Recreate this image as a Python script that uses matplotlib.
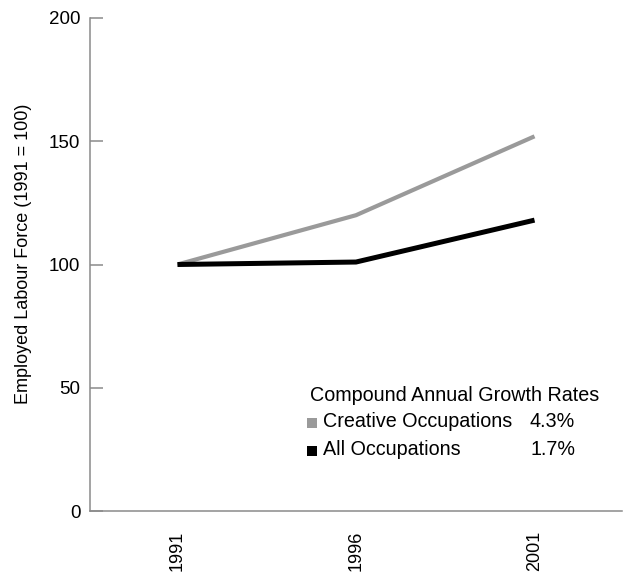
import matplotlib.pyplot as plt

years = ['1991', '1996', '2001']
creative = [100, 120, 152]
all_occ = [100, 101, 118]
series_names = ['Creative Occupations', 'All Occupations']
rates = ['4.3%', '1.7%']
legend_title = 'Compound Annual Growth Rates'

grey = '#9a9a9a'
axis_grey = '#8a8a8a'

plt.rcParams['font.family'] = ['Liberation Sans', 'DejaVu Sans']

fig = plt.figure(figsize=(6.24, 5.72), dpi=100)
ax = fig.add_axes([90 / 624, 1 - 511 / 572, 532 / 624, 493 / 572])

x = range(len(years))
ax.plot(x, creative, color=grey, lw=3.0, solid_capstyle='butt')
ax.plot(x, all_occ, color='black', lw=3.6, solid_capstyle='butt')

ax.set_xlim(-0.49, 2.49)
ax.set_ylim(0, 200)
ax.set_yticks([0, 50, 100, 150, 200])
ax.set_xticks(list(x))
ax.set_xticklabels(years, rotation=90, fontsize=13)

for side in ['top', 'right']:
    ax.spines[side].set_visible(False)
for side in ['left', 'bottom']:
    ax.spines[side].set_color(axis_grey)
    ax.spines[side].set_linewidth(1.1)

ax.tick_params(axis='y', direction='in', length=9, width=1.1, color=axis_grey,
               pad=7, labelsize=13.5)
ax.tick_params(axis='x', length=0, pad=14)
ax.set_ylabel('Employed Labour Force (1991 = 100)', fontsize=13)
ax.yaxis.set_label_coords((32 - 90) / 532, (511 - 254) / 493)


def ax_pos(px, py):
    return (px - 90) / 532, (511 - py) / 493


tx, ty = ax_pos(310, 401)
ax.text(tx, ty, legend_title, transform=ax.transAxes, fontsize=14.2, va='baseline')

colors = [grey, 'black']
baselines = [427, 455]
rate_x = [529, 531]
for name, rate, c, by, rx in zip(series_names, rates, colors, baselines, rate_x):
    sx, sy = ax_pos(312, by - 4)
    ax.scatter([sx], [sy], marker='s', s=45, color=c, transform=ax.transAxes,
               clip_on=False, linewidths=0)
    nx, ny = ax_pos(323, by)
    ax.text(nx, ny, name, transform=ax.transAxes, fontsize=14.2, va='baseline')
    rx_, ry_ = ax_pos(rx, by)
    ax.text(rx_, ry_, rate, transform=ax.transAxes, fontsize=14.2, va='baseline')

fig.savefig('out.png', dpi=100)
